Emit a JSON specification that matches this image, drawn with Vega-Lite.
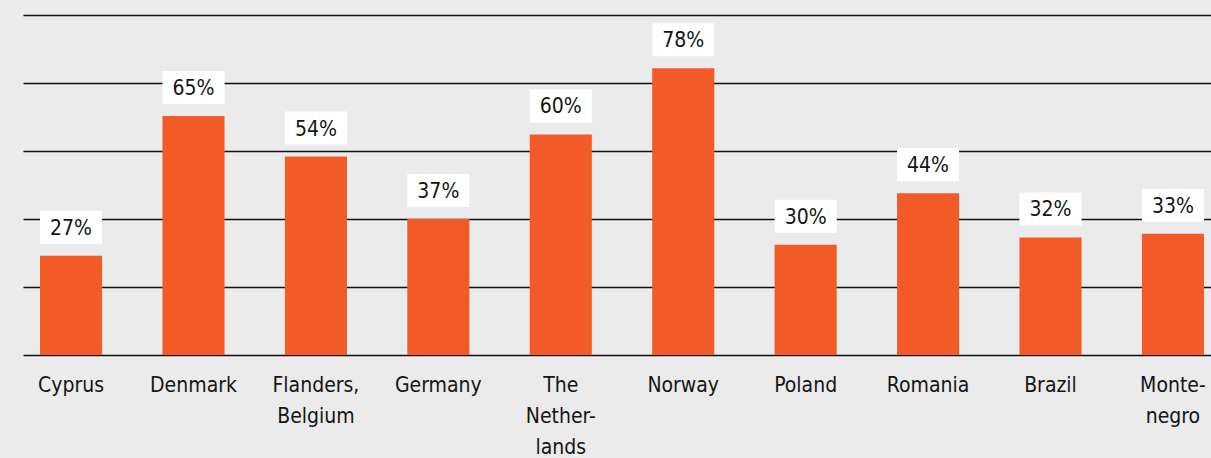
{
  "$schema": "https://vega.github.io/schema/vega-lite/v6.json",
  "width": 1198,
  "height": 340,
  "autosize": {"type": "none"},
  "padding": {"left": 23, "top": 15, "right": 0, "bottom": 103},
  "background": "#ebebeb",
  "config": {"view": {"stroke": null}, "font": "DejaVu Sans Condensed"},
  "data": {"values": [
    {"country": "Cyprus", "share": 0.27},
    {"country": "Denmark", "share": 0.65},
    {"country": "Flanders, Belgium", "share": 0.54},
    {"country": "Germany", "share": 0.37},
    {"country": "The Netherlands", "share": 0.60},
    {"country": "Norway", "share": 0.78},
    {"country": "Poland", "share": 0.30},
    {"country": "Romania", "share": 0.44},
    {"country": "Brazil", "share": 0.32},
    {"country": "Montenegro", "share": 0.33}
  ]},
  "encoding": {
    "x": {
      "field": "country", "type": "nominal", "sort": null,
      "scale": {"paddingInner": 0.493, "paddingOuter": 0.139, "align": 0.5},
      "axis": {
        "title": null, "domain": false, "ticks": false, "labelAngle": 0,
        "labelFontSize": 21, "labelColor": "#151515", "labelPadding": 19, "labelLineHeight": 31,
        "labelExpr": "datum.label == 'Flanders, Belgium' ? ['Flanders,', 'Belgium'] : datum.label == 'The Netherlands' ? ['The', 'Nether-', 'lands'] : datum.label == 'Montenegro' ? ['Monte-', 'negro'] : datum.label"
      }
    }
  },
  "layer": [
    {
      "mark": {"type": "bar", "color": "#f25a28"},
      "encoding": {
        "y": {
          "field": "share", "type": "quantitative",
          "scale": {"domain": [0, 0.925], "nice": false, "zero": true},
          "axis": {"title": null, "values": [0, 0.185, 0.37, 0.555, 0.74, 0.925], "labels": false, "ticks": false, "domain": false, "grid": true, "gridColor": "#111111", "gridWidth": 1.5, "gridOpacity": 1}
        }
      }
    },
    {
      "mark": {"type": "bar", "color": "#ffffff", "yOffset": -45, "y2Offset": -12},
      "encoding": {
        "y": {"field": "share", "type": "quantitative"},
        "y2": {"field": "share"}
      }
    },
    {
      "mark": {"type": "text", "fontSize": 21, "baseline": "middle", "dy": -27, "color": "#151515"},
      "encoding": {
        "y": {"field": "share", "type": "quantitative"},
        "text": {"field": "share", "type": "quantitative", "format": ".0%"}
      }
    }
  ]
}
